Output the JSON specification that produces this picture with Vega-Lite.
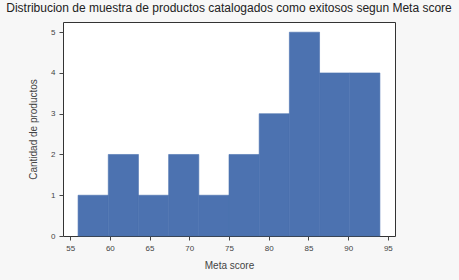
{
  "$schema": "https://vega.github.io/schema/vega-lite/v6.json",
  "width": 332,
  "height": 214,
  "autosize": {"type": "none"},
  "padding": {"left": 63, "top": 22, "right": 64, "bottom": 44},
  "background": "#f7f7f7",
  "title": {
    "text": "Distribucion de muestra de productos catalogados como exitosos segun Meta score",
    "font": "Liberation Sans",
    "fontSize": 12,
    "fontWeight": "normal",
    "color": "#222222",
    "anchor": "middle",
    "offset": 7
  },
  "data": {
    "values": [
      {"start": 56.0, "end": 59.8, "count": 1},
      {"start": 59.8, "end": 63.6, "count": 2},
      {"start": 63.6, "end": 67.4, "count": 1},
      {"start": 67.4, "end": 71.2, "count": 2},
      {"start": 71.2, "end": 75.0, "count": 1},
      {"start": 75.0, "end": 78.8, "count": 2},
      {"start": 78.8, "end": 82.6, "count": 3},
      {"start": 82.6, "end": 86.4, "count": 5},
      {"start": 86.4, "end": 90.2, "count": 4},
      {"start": 90.2, "end": 94.0, "count": 4}
    ]
  },
  "mark": {"type": "bar", "color": "#4c72b0", "stroke": "#4c72b0", "strokeWidth": 0.6},
  "encoding": {
    "x": {
      "field": "start",
      "type": "quantitative",
      "title": "Meta score",
      "scale": {"domain": [54.1, 95.9], "nice": false, "zero": false},
      "axis": {"values": [55, 60, 65, 70, 75, 80, 85, 90, 95], "grid": false, "titlePadding": 8}
    },
    "x2": {"field": "end"},
    "y": {
      "field": "count",
      "type": "quantitative",
      "title": "Cantidad de productos",
      "scale": {"domain": [0, 5.25], "nice": false},
      "axis": {"values": [0, 1, 2, 3, 4, 5], "grid": false, "titlePadding": 12}
    },
    "y2": {"datum": 0}
  },
  "config": {
    "view": {"stroke": "#333333", "strokeWidth": 1, "fill": "white"},
    "axis": {
      "domain": false,
      "tickColor": "#444444",
      "tickSize": 4,
      "labelFont": "Liberation Sans",
      "labelFontSize": 8,
      "labelColor": "#444444",
      "labelPadding": 4,
      "titleFont": "Liberation Sans",
      "titleFontSize": 10,
      "titleFontWeight": "normal",
      "titleColor": "#444444"
    }
  }
}
